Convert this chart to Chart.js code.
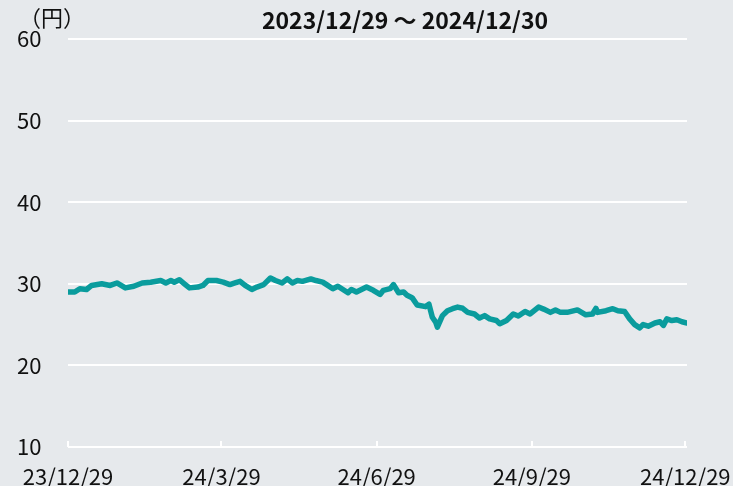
<!DOCTYPE html>
<html lang="ja">
<head>
<meta charset="utf-8">
<script src="https://cdn.jsdelivr.net/npm/chart.js@4"></script>
<style>
  html, body { margin: 0; padding: 0; background: #e6e9ec; }
  #wrap { width: 733px; height: 486px; position: relative; }
</style>
</head>
<body>
<div id="wrap"><canvas id="priceChart"></canvas></div>
<script>
// Price (yen), day offsets counted from 2023/12/29
const days = [0, 4, 7, 11, 14, 20, 25, 29, 34, 39, 44, 49, 55, 58, 61, 63, 66, 69, 72, 77,
  80, 83, 88, 92, 96, 99, 102, 105, 109, 112, 116, 120, 123, 127, 130, 133, 136, 139, 144, 147,
  151, 154, 157, 160, 163, 166, 168, 171, 174, 177, 181, 185, 187, 191, 193, 196, 199, 201, 204, 207,
  212, 214, 216, 218, 219, 222, 225, 228, 231, 234, 237, 241, 244, 247, 250, 254, 256, 260, 264, 267,
  271, 274, 279, 282, 286, 289, 292, 296, 302, 307, 311, 313, 314, 319, 323, 326, 330, 333, 336, 339,
  341, 344, 348, 351, 353, 355, 358, 361, 364, 367];
const prices = [29.0, 29.0, 29.4, 29.3, 29.8, 30.0, 29.8, 30.1, 29.5, 29.7, 30.1, 30.2, 30.4, 30.1, 30.4, 30.2, 30.5, 30.0, 29.5, 29.6,
  29.8, 30.4, 30.4, 30.2, 29.9, 30.1, 30.3, 29.8, 29.3, 29.6, 29.9, 30.7, 30.4, 30.1, 30.6, 30.1, 30.4, 30.3, 30.6, 30.4,
  30.2, 29.8, 29.4, 29.7, 29.3, 28.9, 29.3, 29.0, 29.3, 29.6, 29.2, 28.7, 29.2, 29.4, 29.9, 28.9, 29.0, 28.6, 28.3, 27.4,
  27.2, 27.5, 25.9, 25.3, 24.7, 26.1, 26.7, 26.95, 27.15, 27.0, 26.5, 26.3, 25.8, 26.1, 25.7, 25.5, 25.1, 25.5, 26.3, 26.05,
  26.6, 26.3, 27.15, 26.9, 26.5, 26.8, 26.5, 26.5, 26.8, 26.2, 26.3, 27.0, 26.5, 26.7, 26.95, 26.7, 26.6, 25.7, 25.0, 24.6,
  25.0, 24.8, 25.2, 25.35, 24.9, 25.7, 25.5, 25.6, 25.35, 25.2];

const tickDays = [0, 91, 183, 275, 366];
const tickLabels = ['23/12/29', '24/3/29', '24/6/29', '24/9/29', '24/12/29'];
const yTicks = [10, 20, 30, 40, 50, 60];

const titleText = '2023/12/29 ～ 2024/12/30';
const unitText = '（円）';

const FONT = "'Noto Sans CJK JP', 'Noto Sans', sans-serif";

// title, unit label and small x tick marks
const decorations = {
  id: 'decorations',
  afterDraw(chart) {
    const ctx = chart.ctx;
    const x = chart.scales.x;
    const area = chart.chartArea;
    ctx.save();
    ctx.strokeStyle = '#ffffff';
    ctx.lineWidth = 2;
    tickDays.forEach(d => {
      const px = Math.round(x.getPixelForValue(d));
      ctx.beginPath();
      ctx.moveTo(px, area.bottom);
      ctx.lineTo(px, area.bottom - 6);
      ctx.stroke();
    });
    ctx.fillStyle = '#111111';
    ctx.textBaseline = 'middle';
    ctx.font = "bold 23px " + FONT;
    ctx.textAlign = 'center';
    ctx.fillText(titleText, 405, 20);
    ctx.font = "22px " + FONT;
    ctx.textAlign = 'left';
    ctx.fillText(unitText, 19, 18);
    ctx.restore();
  }
};

new Chart(document.getElementById('priceChart'), {
  type: 'line',
  data: {
    datasets: [{
      data: days.map((d, i) => ({ x: d, y: prices[i] })),
      borderColor: '#0a9c9d',
      borderWidth: 5.5,
      borderJoinStyle: 'round',
      borderCapStyle: 'round',
      pointRadius: 0,
      tension: 0,
      fill: false,
    }],
  },
  options: {
    responsive: true, maintainAspectRatio: false,
    animation: false,
    layout: { padding: { left: 17, top: 39, right: 46, bottom: 0 } },
    plugins: { legend: { display: false }, tooltip: { enabled: false } },
    scales: {
      x: {
        type: 'linear', min: 0, max: 367,
        afterBuildTicks: s => { s.ticks = tickDays.map(v => ({ value: v })); },
        afterFit: s => { s.height = 39; s.paddingLeft = 0; s.paddingRight = 0; },
        ticks: {
          autoSkip: false, maxRotation: 0, padding: 16,
          color: '#111111', font: { family: FONT, size: 22 },
          callback: v => tickLabels[tickDays.indexOf(v)] || '',
        },
        grid: { display: false, drawTicks: false },
        border: { display: false },
      },
      y: {
        min: 10, max: 60,
        afterBuildTicks: s => { s.ticks = yTicks.map(v => ({ value: v })); },
        afterFit: s => { s.width = 51; },
        ticks: {
          crossAlign: 'far', padding: 0,
          color: '#111111', font: { family: FONT, size: 22 },
        },
        grid: { color: '#ffffff', lineWidth: 2, drawTicks: false },
        border: { display: false },
      },
    },
  },
  plugins: [decorations],
});
</script>
</body>
</html>
